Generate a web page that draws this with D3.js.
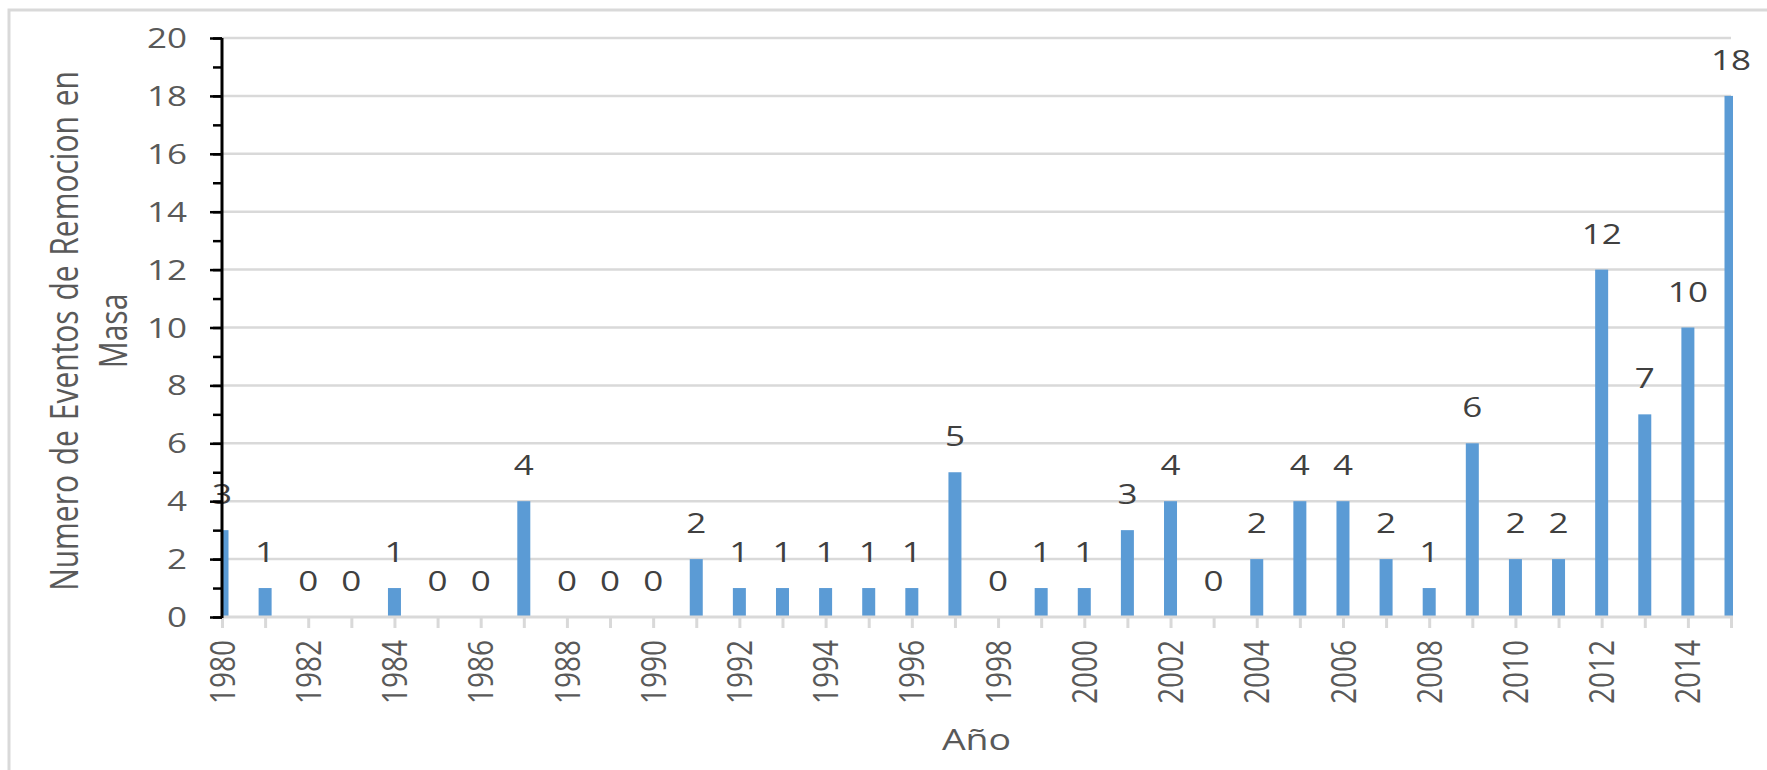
<!DOCTYPE html>
<html>
<head>
<meta charset="utf-8">
<script src="https://cdn.jsdelivr.net/npm/d3@7"></script>
<style>
  body { margin: 0; background: #fff; }
  svg { display: block; }
  text { font-family: "Open Sans", sans-serif; }
</style>
</head>
<body>
<svg id="chart" width="1767" height="770"></svg>
<script>
// Mass-movement events recorded per year
const years = [1980, 1981, 1982, 1983, 1984, 1985, 1986, 1987, 1988, 1989,
               1990, 1991, 1992, 1993, 1994, 1995, 1996, 1997, 1998, 1999,
               2000, 2001, 2002, 2003, 2004, 2005, 2006, 2007, 2008, 2009,
               2010, 2011, 2012, 2013, 2014, 2015];
const events = [3, 1, 0, 0, 1, 0, 0, 4, 0, 0,
                0, 2, 1, 1, 1, 1, 1, 5, 0, 1,
                1, 3, 4, 0, 2, 4, 4, 2, 1, 6,
                2, 2, 12, 7, 10, 18];
const yTickValues = [0, 2, 4, 6, 8, 10, 12, 14, 16, 18, 20];
const xLabelYears = [1980, 1982, 1984, 1986, 1988, 1990, 1992, 1994, 1996, 1998,
                     2000, 2002, 2004, 2006, 2008, 2010, 2012, 2014];
const yTitleLines = ["Numero de Eventos de Remocion en", "Masa"];
const xTitle = "Año";

const rows = years.map((yr, i) => ({ year: yr, value: events[i] }));

const W = 1767, H = 770;
const plot = { left: 222, right: 1733, top: 38, bottom: 617 };
const SX = 1.25;           // horizontal widening of lettering
const GRID = "#d9d9d9", BAR = "#5b9bd5", AXIS_TXT = "#595959", LBL = "#404040";

const svg = d3.select("#chart");

const x = d3.scalePoint().domain(years).range([plot.left, 1731]).padding(0);
const y = d3.scaleLinear().domain([0, 20]).range([plot.bottom, plot.top]);
const barW = 13;

// outer frame
svg.append("path")
  .attr("d", `M9,${H} V10 H${W}`)
  .attr("fill", "none").attr("stroke", GRID).attr("stroke-width", 3);

// horizontal gridlines
svg.append("g").selectAll("line")
  .data(yTickValues.filter(v => v > 0))
  .join("line")
  .attr("x1", plot.left).attr("x2", 1731)
  .attr("y1", d => y(d)).attr("y2", d => y(d))
  .attr("stroke", GRID).attr("stroke-width", 2.5);

// bars, clipped to the plot area
svg.append("clipPath").attr("id", "plotClip")
  .append("rect")
  .attr("x", plot.left).attr("y", 0)
  .attr("width", plot.right - plot.left).attr("height", plot.bottom + 1);

svg.append("g").attr("clip-path", "url(#plotClip)")
  .selectAll("rect")
  .data(rows.filter(d => d.value > 0))
  .join("rect")
  .attr("x", d => x(d.year) - barW / 2)
  .attr("width", barW)
  .attr("y", d => y(d.value))
  .attr("height", d => y(0) - y(d.value))
  .attr("fill", BAR);

// category axis: line, ticks for every year, labels every second year
const xAxis = d3.axisBottom(x).tickValues(years).tickSize(11).tickFormat("");
const gx = svg.append("g").attr("transform", `translate(0,${plot.bottom})`).call(xAxis);
gx.select(".domain").attr("stroke", GRID).attr("stroke-width", 3)
  .attr("d", `M${plot.left},0H${plot.right}`);
gx.selectAll(".tick line").attr("stroke", GRID).attr("stroke-width", 3);

svg.append("g").selectAll("text")
  .data(xLabelYears)
  .join("text")
  .attr("transform", d => `translate(${x(d)},640) rotate(-90) scale(1,${SX})`)
  .attr("text-anchor", "end")
  .attr("dy", "0.36em")
  .attr("font-size", 28)
  .attr("fill", AXIS_TXT)
  .text(d => d);

// value labels above each bar
svg.append("g").selectAll("text")
  .data(rows)
  .join("text")
  .attr("transform", d => `translate(${x(d.year)},${y(d.value) - 26}) scale(${SX},1)`)
  .attr("text-anchor", "middle")
  .attr("font-size", 28)
  .attr("fill", LBL)
  .text(d => d.value);

// value axis: black spine with major and minor ticks
const yMinor = d3.axisLeft(y).ticks(20).tickSize(9).tickFormat("");
const gyMinor = svg.append("g").attr("transform", `translate(${plot.left},0)`).call(yMinor);
gyMinor.select(".domain").remove();
gyMinor.selectAll(".tick line").attr("stroke", "#000").attr("stroke-width", 2.5);

const yAxis = d3.axisLeft(y).tickValues(yTickValues).tickSize(12).tickFormat("");
const gy = svg.append("g").attr("transform", `translate(${plot.left},0)`).call(yAxis);
gy.select(".domain").attr("stroke", "#000").attr("stroke-width", 3)
  .attr("d", `M0,${plot.top}V${plot.bottom + 1}`);
gy.selectAll(".tick line").attr("stroke", "#000").attr("stroke-width", 2.5);

svg.append("g").selectAll("text")
  .data(yTickValues)
  .join("text")
  .attr("transform", d => `translate(187,${y(d)}) scale(${SX},1)`)
  .attr("text-anchor", "end")
  .attr("dy", "0.36em")
  .attr("font-size", 28)
  .attr("fill", AXIS_TXT)
  .text(d => d);

// axis titles
svg.append("g").selectAll("text")
  .data(yTitleLines)
  .join("text")
  .attr("transform", (d, i) => `translate(${64 + i * 49},331) rotate(-90) scale(1,${SX})`)
  .attr("text-anchor", "middle")
  .attr("dy", "0.36em")
  .attr("font-size", 30)
  .attr("word-spacing", 2)
  .attr("fill", AXIS_TXT)
  .text(d => d);

svg.append("text")
  .attr("transform", `translate(${(plot.left + 1731) / 2},750) scale(${SX},1)`)
  .attr("text-anchor", "middle")
  .attr("font-size", 30)
  .attr("fill", AXIS_TXT)
  .text(xTitle);
</script>
</body>
</html>
